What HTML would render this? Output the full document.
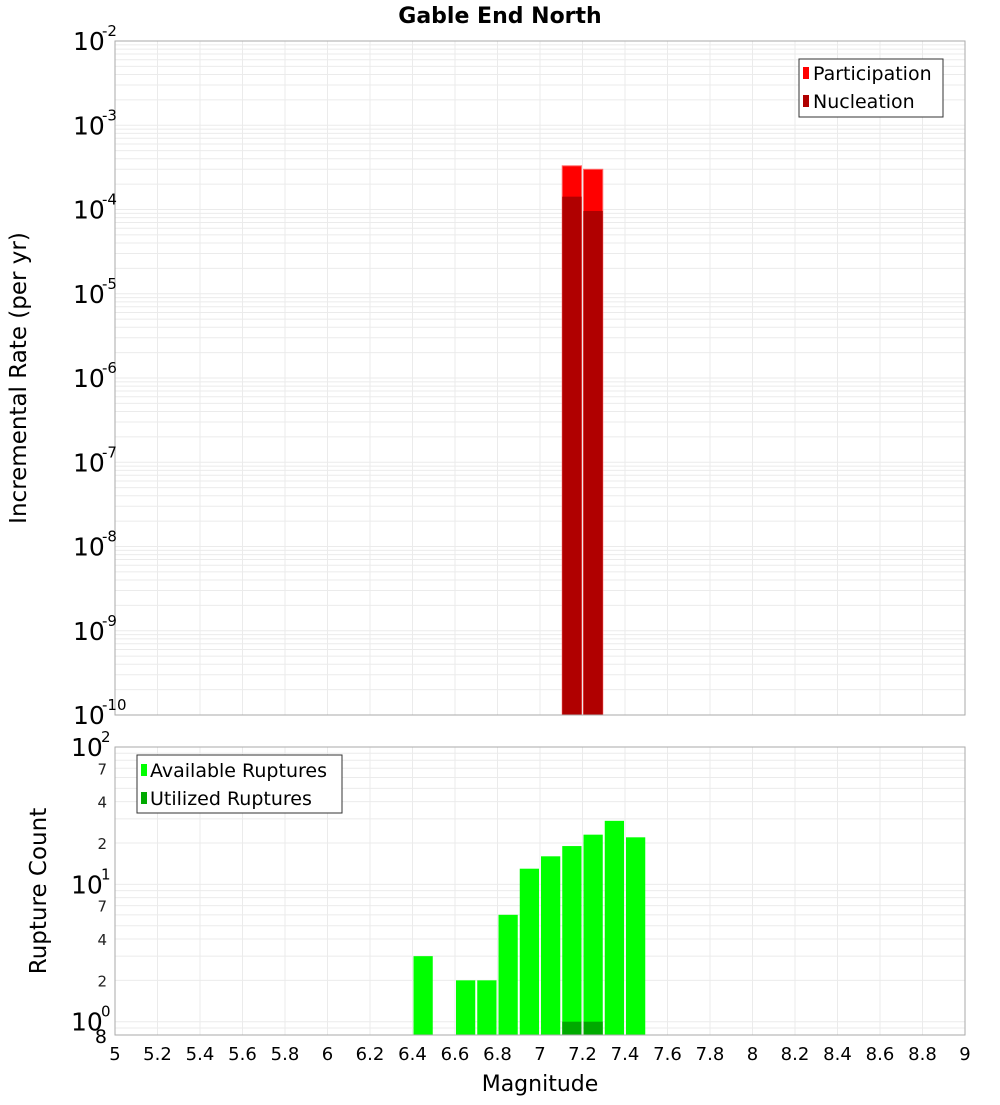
<!DOCTYPE html>
<html><head><meta charset="utf-8"><style>
body{margin:0;background:#fff;}
svg{font-family:"DejaVu Sans","Liberation Sans",sans-serif;}
</style></head><body>
<svg id="c" width="1000" height="1100" xmlns="http://www.w3.org/2000/svg">
<text x="500" y="23" text-anchor="middle" font-size="22" font-weight="bold">Gable End North</text>
<g id="topPlot"></g>
<g id="botPlot"></g>
<g id="overlay">
<g>
<rect x="799" y="59" width="144" height="58" fill="#fff" stroke="#333" stroke-width="1"/>
<rect x="803" y="67" width="6" height="12" fill="#ff0000"/>
<text x="813" y="80" font-size="19">Participation</text>
<rect x="803" y="95" width="6" height="12" fill="#b00000"/>
<text x="813" y="108" font-size="19">Nucleation</text>
</g>
<g>
<rect x="137" y="755" width="205" height="58" fill="#fff" stroke="#333" stroke-width="1"/>
<rect x="141" y="764" width="6" height="12" fill="#00ff00"/>
<text x="150" y="777" font-size="19">Available Ruptures</text>
<rect x="141" y="792" width="6" height="12" fill="#00aa00"/>
<text x="150" y="805" font-size="19">Utilized Ruptures</text>
</g>
</g>
<text transform="translate(26,378) rotate(-90)" text-anchor="middle" font-size="23">Incremental Rate (per yr)</text>
<text transform="translate(46,891) rotate(-90)" text-anchor="middle" font-size="23">Rupture Count</text>
<text x="540" y="1091" text-anchor="middle" font-size="22">Magnitude</text>
</svg>
<script>
const rateMags=[7.1,7.2];
const participation=[3.3e-4,3.0e-4];
const nucleation=[1.42e-4,9.6e-5];
const countMags=[6.4,6.6,6.7,6.8,6.9,7.0,7.1,7.2,7.3,7.4];
const available=[3,2,2,6,13,16,19,23,29,22];
const utilizedMags=[7.1,7.2];
const utilized=[1,1];
const xTicks=["5","5.2","5.4","5.6","5.8","6","6.2","6.4","6.6","6.8","7","7.2","7.4","7.6","7.8","8","8.2","8.4","8.6","8.8","9"];
const topExps=[-2,-3,-4,-5,-6,-7,-8,-9,-10];
const botMinor=[2,4,7];

const NS="http://www.w3.org/2000/svg";
const X0=115,X1=965;
function xs(m){return X0+(m-5)/4*(X1-X0);}
const T0=41,T1=715;
function yT(v){return T0+(-2-Math.log10(v))/8*(T1-T0);}
const B0=747,B1=1035;
function yB(v){return B0+(2-Math.log10(v))/(2-Math.log10(0.8))*(B1-B0);}
function mk(p,t,a){const e=document.createElementNS(NS,t);for(const k in a)e.setAttribute(k,a[k]);p.appendChild(e);return e;}
const gTop=document.getElementById('topPlot'),gBot=document.getElementById('botPlot'),svgEl=document.getElementById('c');
const labels=mk(svgEl,'g',{});



mk(gTop,'rect',{x:X0,y:T0,width:X1-X0,height:T1-T0,fill:'#fff'});
for(let d=-10;d<-2;d++)for(let k=1;k<10;k++){const yy=yT(k*Math.pow(10,d));
 const l=mk(gTop,'line',{x1:X0,x2:X1,y1:yy,y2:yy,stroke:'#ebebeb','stroke-width':1});
 
 }
for(let i=0;i<xTicks.length;i++){const xx=xs(+xTicks[i]);
 mk(gTop,'line',{x1:xx,x2:xx,y1:T0,y2:T1,stroke:'#ebebeb'});
 mk(gBot,'line',{x1:xx,x2:xx,y1:B0,y2:B1,stroke:'#ebebeb'});}
for(let i=0;i<rateMags.length;i++){
 const xa=xs(rateMags[i])+1,xb=xs(rateMags[i]+0.1)-1;
 const p=mk(gTop,'rect',{x:xa,y:yT(participation[i]),width:xb-xa,height:T1-yT(participation[i]),fill:'#ff0000',stroke:'#ff6666','stroke-width':1});
 
 
 const n=mk(gTop,'rect',{x:xa,y:yT(nucleation[i]),width:xb-xa,height:T1-yT(nucleation[i]),fill:'#b00000'});
 
 }
mk(gTop,'rect',{x:X0,y:T0,width:X1-X0,height:T1-T0,fill:'none',stroke:'#aaa'});
for(const e of topExps){const yy=yT(Math.pow(10,e));
 const t=mk(labels,'text',{x:73,y:yy+9,'font-size':25});
 
 
 t.textContent='10';
 const s=mk(labels,'text',{x:102,y:yy-5,'font-size':15});
 s.textContent=String(e);}

for(let d=-1;d<2;d++)for(let k=1;k<10;k++){const v=k*Math.pow(10,d);if(v<0.8)continue;const yy=yB(v);
 mk(gBot,'line',{x1:X0,x2:X1,y1:yy,y2:yy,stroke:'#ebebeb'});}
for(let i=0;i<countMags.length;i++){
 const xa=xs(countMags[i])+1,xb=xs(countMags[i]+0.1)-1;
 const r=mk(gBot,'rect',{x:xa,y:yB(available[i]),width:xb-xa,height:B1-yB(available[i]),fill:'#00ff00'});
 
 }
for(let i=0;i<utilizedMags.length;i++){
 const xa=xs(utilizedMags[i])+1,xb=xs(utilizedMags[i]+0.1)-1;
 const r=mk(gBot,'rect',{x:xa,y:yB(utilized[i]),width:xb-xa,height:B1-yB(utilized[i]),fill:'#00aa00'});
 
 }
mk(gBot,'rect',{x:X0,y:B0,width:X1-X0,height:B1-B0,fill:'none',stroke:'#aaa'});
for(const e of [2,1,0]){const yy=yB(Math.pow(10,e));
 const t=mk(labels,'text',{x:71,y:yy+9,'font-size':25});
 
 
 t.textContent='10';
 const s=mk(labels,'text',{x:101,y:yy-5,'font-size':15});
 s.textContent=String(e);}
for(const d of [0,1])for(const k of botMinor){const yy=yB(k*Math.pow(10,d));
 const t=mk(labels,'text',{x:107,y:yy+6,'font-size':15,'text-anchor':'end',fill:'#222'});
 
 
 t.textContent=String(k);}
{const t=mk(labels,'text',{x:107,y:yB(0.8)+8,'font-size':19,'text-anchor':'end'});t.textContent='8';}
for(const lab of xTicks){const t=mk(labels,'text',{x:xs(+lab),y:1060,'font-size':18,'text-anchor':'middle'});
 
 
 t.textContent=lab;}
svgEl.appendChild(document.getElementById('overlay'));
</script>
</body></html>
